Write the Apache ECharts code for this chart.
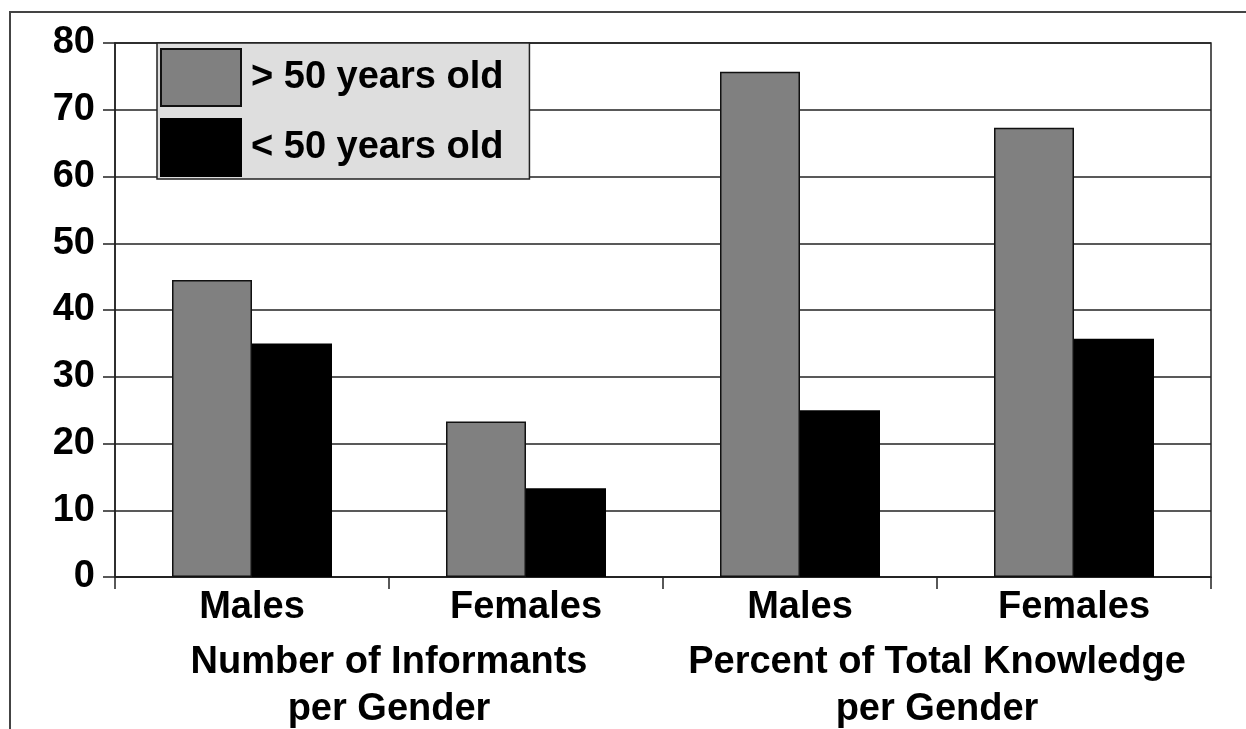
<!DOCTYPE html>
<html>
<head>
<meta charset="utf-8">
<script src="https://cdn.jsdelivr.net/npm/echarts@6/dist/echarts.min.js"></script>
<style>
  html, body { margin: 0; padding: 0; background: #fff; }
  #chart { width: 1246px; height: 729px; }
</style>
</head>
<body>
<div id="chart"></div>
<script>
// Gender categories, repeated for each measure
const categories = ['Males', 'Females', 'Males', 'Females'];
// Measure names, each spanning two gender categories
const groupLabels = ['Number of Informants\nper Gender', 'Percent of Total Knowledge\nper Gender'];
const seriesNames = ['> 50 years old', '< 50 years old'];
const over50 = [44.5, 23.3, 75.7, 67.3];
const under50 = [35, 13.3, 25, 35.7];
const yTicks = { min: 0, max: 80, interval: 10 };

const FONT = '"Liberation Sans", Arial, Helvetica, sans-serif';
const INK = '#222';

const chart = echarts.init(document.getElementById('chart'), null, { renderer: 'canvas' });

const labelStyle = {
  fontFamily: FONT,
  fontWeight: 'bold',
  fontSize: 38,
  color: '#000'
};

chart.setOption({
  animation: false,
  backgroundColor: '#fff',
  graphic: [{
    type: 'polyline',
    shape: { points: [[10, 729], [10, 12], [1246, 12]] },
    style: { stroke: '#444', lineWidth: 2, fill: null },
    silent: true
  }],
  grid: {
    left: 115, right: 35, top: 43, bottom: 152,
    outerBoundsMode: 'none',
    containLabel: false,
    show: true, borderColor: INK, borderWidth: 1.5, backgroundColor: 'transparent'
  },
  legend: {
    orient: 'vertical',
    left: 157, top: 43,
    itemWidth: 80, itemHeight: 57, itemGap: 11,
    padding: [5, 26, 2, 3],
    backgroundColor: '#dedede',
    borderColor: INK, borderWidth: 1.5,
    icon: 'rect',
    data: seriesNames,
    textStyle: Object.assign({}, labelStyle, { padding: [0, 0, 0, 5] })
  },
  xAxis: [{
    type: 'category',
    data: categories,
    axisLine: { show: true, lineStyle: { color: INK, width: 1.5 } },
    axisTick: { show: true, length: 12, lineStyle: { color: INK, width: 1.5 } },
    axisLabel: Object.assign({}, labelStyle, { margin: 12, lineHeight: 38, interval: 0 }),
    splitLine: { show: false }
  }, {
    type: 'category',
    data: groupLabels,
    position: 'bottom',
    axisLine: { show: false },
    axisTick: { show: false },
    axisLabel: Object.assign({}, labelStyle, { margin: 62, lineHeight: 47, interval: 0 }),
    splitLine: { show: false }
  }],
  yAxis: {
    type: 'value',
    min: yTicks.min, max: yTicks.max, interval: yTicks.interval,
    axisLine: { show: true, lineStyle: { color: INK, width: 1.5 } },
    axisTick: { show: true, length: 12, lineStyle: { color: INK, width: 1.5 } },
    axisLabel: Object.assign({}, labelStyle, { margin: 20 }),
    splitLine: { show: true, lineStyle: { color: INK, width: 1.5 } }
  },
  series: [{
    name: seriesNames[0],
    type: 'bar',
    xAxisIndex: 0,
    data: over50,
    barWidth: 80,
    barGap: '0%',
    itemStyle: { color: '#808080', borderColor: '#111', borderWidth: 1.5 }
  }, {
    name: seriesNames[1],
    type: 'bar',
    xAxisIndex: 0,
    data: under50,
    barWidth: 80,
    barGap: '0%',
    itemStyle: { color: '#000', borderColor: '#000', borderWidth: 1.5 }
  }]
});
</script>
</body>
</html>
